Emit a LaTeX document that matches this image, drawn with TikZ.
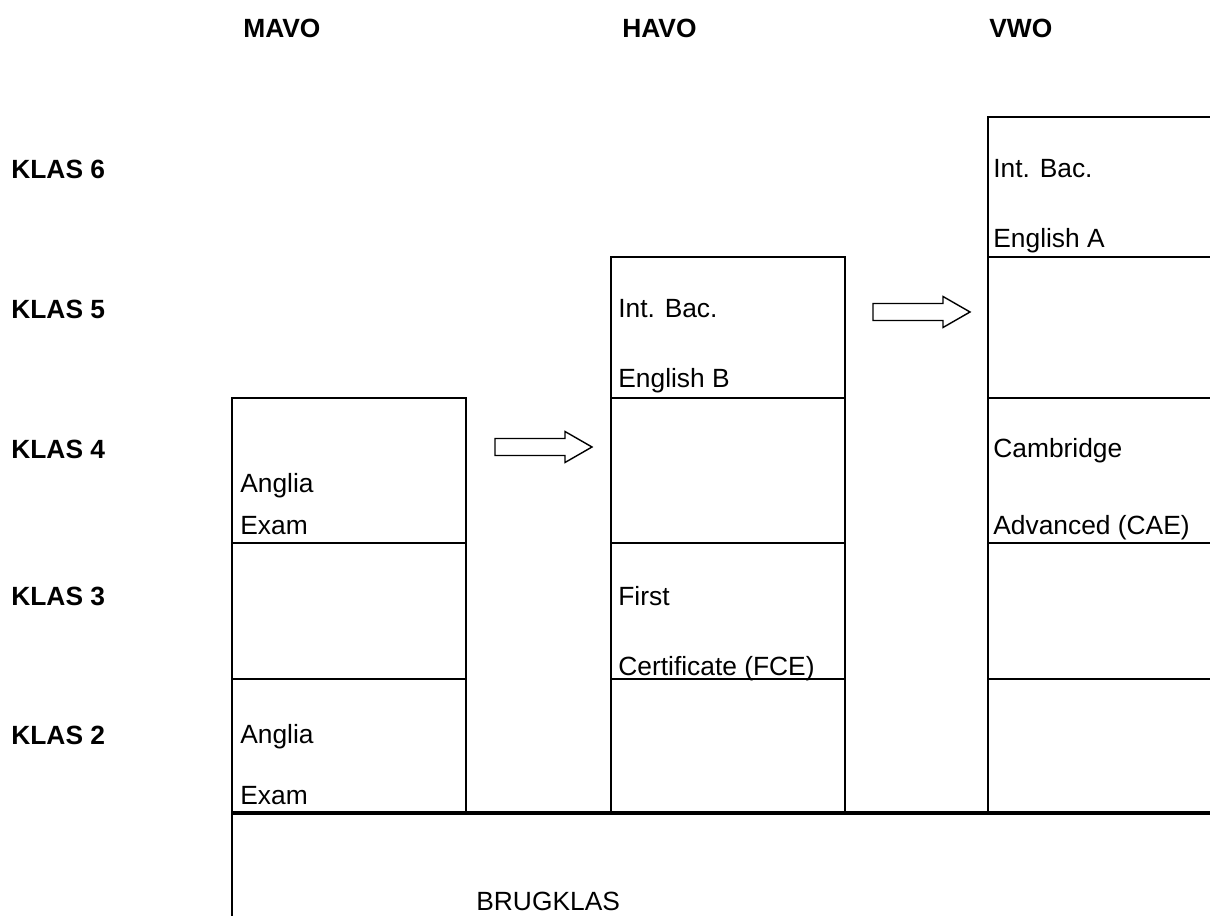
\documentclass[tikz,border=0pt]{standalone}
\usepackage{fontspec}
\setmainfont{Liberation Sans}
\usepackage{tikz}

\tikzset{
  lbl/.style = {anchor = base west, inner sep = 0pt, font = \fontsize{15}{18}\selectfont},
  head/.style = {lbl, font = \fontsize{15}{18}\selectfont\bfseries},
  outer/.style = {black, line width = 1.3pt},
  inner/.style = {black, line width = 0.9pt},
  hollow/.style = {black, line width = 0.8pt, fill = white}
}

\begin{document}
\begin{tikzpicture} [scale = 1]
\useasboundingbox (0, 0) rectangle (24.2, 18.3);
% kolomkoppen
\node[head] (mavo) at (4.86, 17.54){MAVO};
\node[head] (havo) at (12.44, 17.54){HAVO};
\node[head] (vwo) at (19.78, 17.54){VWO};
% klassen
\node[head] (k6) at (0.22, 14.72){KLAS 6};
\node[head] (k5) at (0.22, 11.92){KLAS 5};
\node[head] (k4) at (0.22, 9.12){KLAS 4};
\node[head] (k3) at (0.22, 6.2){KLAS 3};
\node[head] (k2) at (0.22, 3.42){KLAS 2};
% MAVO
\draw[outer] (4.64, 2.04) -- (4.64, 10.34) -- (9.32, 10.34) -- (9.32, 2.04);
\draw[inner] (4.64, 7.44) -- (9.32, 7.44);
\draw[inner] (4.64, 4.72) -- (9.32, 4.72);
\node[lbl] (m4a) at (4.8, 8.44){Anglia};
\node[lbl] (m4b) at (4.8, 7.6){Exam};
\node[lbl] (m2a) at (4.8, 3.44){Anglia};
\node[lbl] (m2b) at (4.8, 2.22){Exam};
% HAVO
\draw[outer] (12.22, 2.04) -- (12.22, 13.16) -- (16.9, 13.16) -- (16.9, 2.04);
\draw[inner] (12.22, 10.34) -- (16.9, 10.34);
\draw[inner] (12.22, 7.44) -- (16.9, 7.44);
\draw[inner] (12.22, 4.72) -- (16.9, 4.72);
\node[lbl] (h5a) at (12.36, 11.94){Int. Bac.};
\node[lbl] (h5b) at (12.36, 10.54){English B};
\node[lbl] (h3a) at (12.36, 6.2){First};
\node[lbl] (h3b) at (12.36, 4.8){Certificate (FCE)};
% VWO
\draw[outer] (19.76, 2.04) -- (19.76, 15.96) -- (24.3, 15.96);
\draw[inner] (19.76, 13.16) -- (24.3, 13.16);
\draw[inner] (19.76, 10.34) -- (24.3, 10.34);
\draw[inner] (19.76, 7.44) -- (24.3, 7.44);
\draw[inner] (19.76, 4.72) -- (24.3, 4.72);
\node[lbl] (v6a) at (19.86, 14.74){Int. Bac.};
\node[lbl] (v6b) at (19.86, 13.34){English A};
\node[lbl] (v4a) at (19.86, 9.14){Cambridge};
\node[lbl] (v4b) at (19.86, 7.6){Advanced (CAE)};
% brugklas
\draw[black, line width = 1.8pt] (4.64, 2.04) -- (24.3, 2.04);
\draw[outer] (4.64, 2.04) -- (4.64, -0.1);
\node[lbl] (brug) at (9.52, 0.1){BRUGKLAS};
% pijlen
\draw[hollow] (9.9, 9.19) -- (11.3, 9.19) -- (11.3, 9.05) -- (11.84, 9.36) -- (11.3, 9.67) -- (11.3, 9.53) -- (9.9, 9.53) -- cycle;
\draw[hollow] (17.46, 11.89) -- (18.86, 11.89) -- (18.86, 11.75) -- (19.4, 12.06) -- (18.86, 12.37) -- (18.86, 12.23) -- (17.46, 12.23) -- cycle;
\end{tikzpicture}
\end{document}
